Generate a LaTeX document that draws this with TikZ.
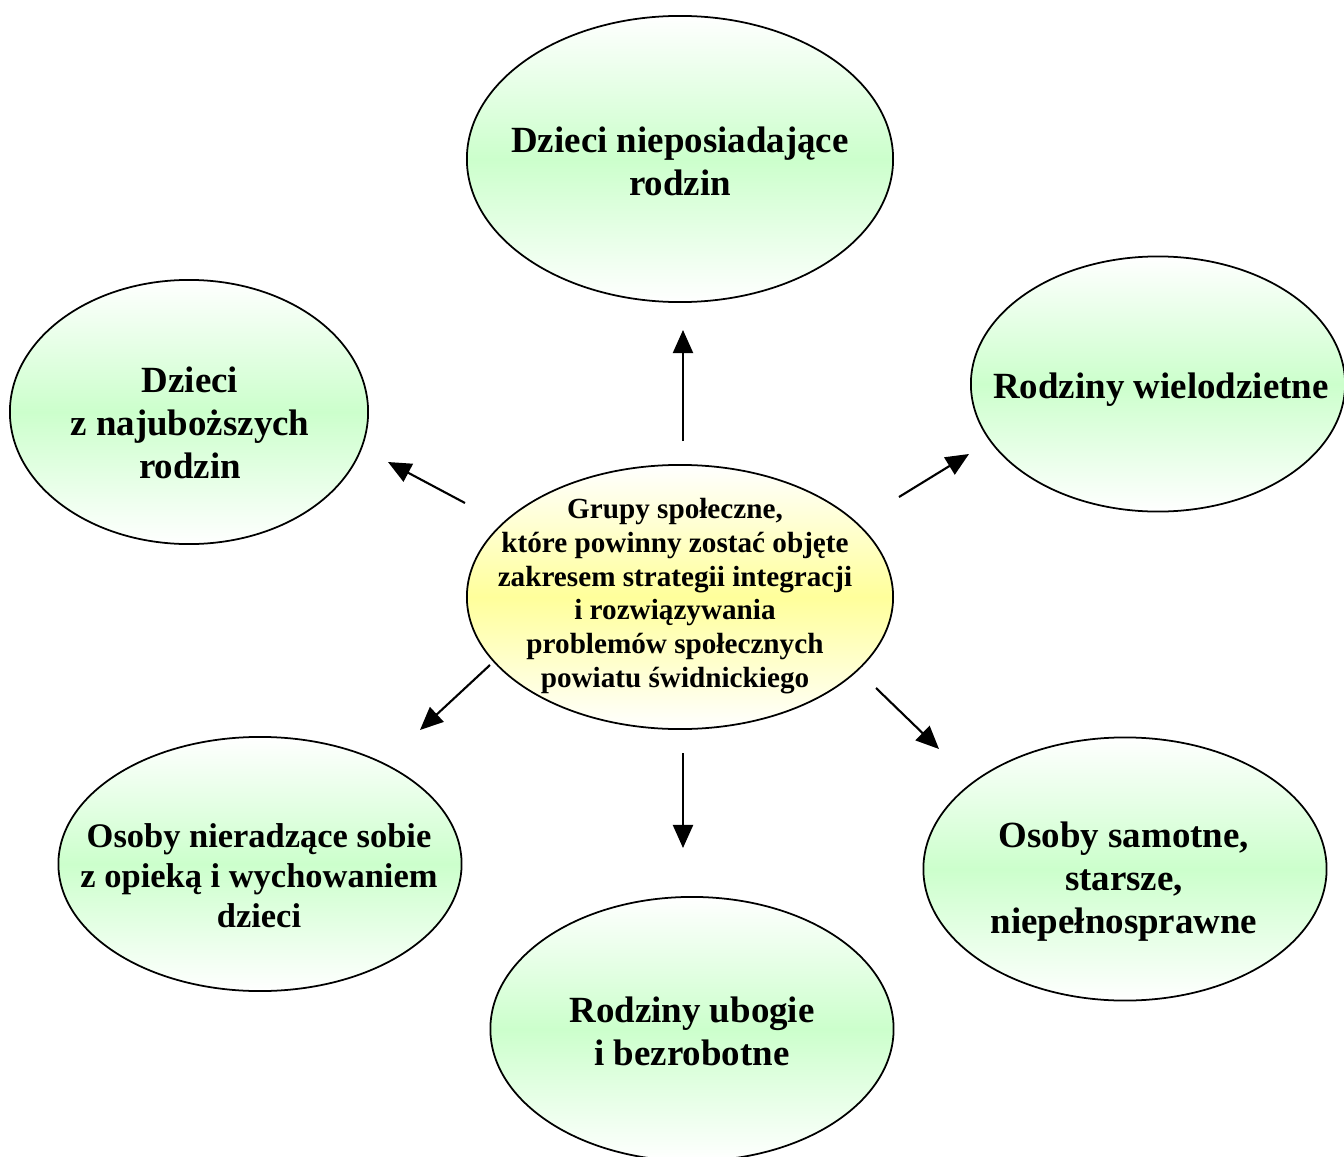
\documentclass[tikz,border=0pt]{standalone}
\usepackage{fontspec}
\setmainfont{Liberation Serif}
\usetikzlibrary{arrows.meta,shapes.geometric}
\definecolor{grp}{RGB}{204,255,204}
\definecolor{core}{RGB}{255,255,155}

\tikzset{
  group/.style={ellipse,draw,line width=0.5pt,inner sep=0pt,
    top color=white,bottom color=white,middle color=grp},
  grouptext/.style={align=center,inner sep=0pt,
    font=\fontsize{10.5}{12.2}\selectfont\bfseries},
  link/.style={line width=0.6pt,-{Triangle[length=0.23cm,width=0.2cm]}}
}

\begin{document}
\begin{tikzpicture}[x=0.01cm,y=-0.01cm]
  \useasboundingbox[fill=white] (0,0) rectangle (1344,1157);

  % outer groups
  \foreach \n/\x/\y/\w/\h/\tx/\ty/\t in {
    top/680/159/4.26/2.86/680/161/{Dzieci nieposiadające\\rodzin},
    left/189/412/3.58/2.64/190/423/{Dzieci\\z najuboższych\\rodzin},
    right/1158/384/3.74/2.55/1161/390/{Rodziny wielodzietne},
    bot/692/1029/4.03/2.64/692/1031/{Rodziny ubogie\\i bezrobotne},
    botright/1125/869/4.03/2.63/1124/882/{Osoby samotne,\\starsze,\\niepełnosprawne}}{
    \node[group,minimum width=\w cm,minimum height=\h cm] (\n) at (\x,\y) {};
    \node[grouptext] (\n-t) at (\tx,\ty) {\t};
  }
  \node[group,minimum width=4.03cm,minimum height=2.54cm] (botleft) at (260,864) {};
  \node[grouptext,font=\fontsize{9.8}{11.35}\selectfont\bfseries] (botleft-t)
    at (259,876) {Osoby nieradzące sobie\\z opieką i wychowaniem\\dzieci};

  % centre
  \node[group,middle color=core,minimum width=4.26cm,minimum height=2.64cm]
    (core) at (680,597) {};
  \node[grouptext,font=\fontsize{8.3}{9.6}\selectfont\bfseries] (core-t)
    at (675,596) {Grupy społeczne,\\które powinny zostać objęte\\zakresem strategii integracji\\i rozwiązywania\\problemów społecznych\\powiatu świdnickiego};

  % arrows
  \foreach \n/\xa/\ya/\xb/\yb in {
    up/683/441/683/330, lt/465/503/388/462, rt/899/497/969/454,
    bl/490/665/420/730, dn/683/753/683/848, br/876/688/939/749}{
    \coordinate (\n-s) at (\xa,\ya);
    \coordinate (\n-e) at (\xb,\yb);
    \draw[link] (\n-s) -- (\n-e);
  }
\end{tikzpicture}
\end{document}
